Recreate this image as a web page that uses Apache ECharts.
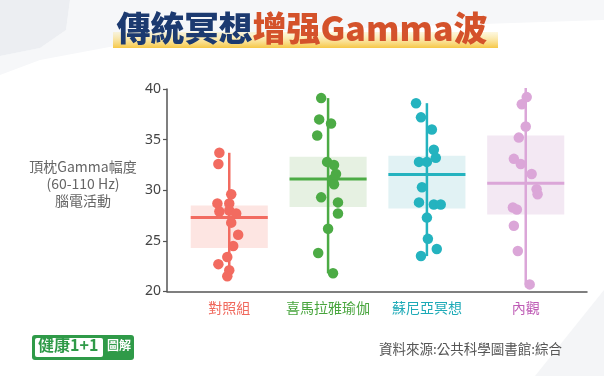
<!DOCTYPE html>
<html>
<head>
<meta charset="utf-8">
<script src="https://cdn.jsdelivr.net/npm/echarts@6/dist/echarts.min.js"></script>
<style>
  html, body { margin: 0; padding: 0; background: #fff; }
  #chart { width: 604px; height: 376px; }
</style>
</head>
<body>
<div id="chart"></div>
<script>
// categories
const groupNames = ['對照組', '喜馬拉雅瑜伽', '蘇尼亞冥想', '內觀'];
const groupPos = [1, 2, 3, 4];
const yTicks = [20, 25, 30, 35, 40];

// summary per group: mean, box low/high, whisker low/high
const groupMean = [27.3, 31.1, 31.55, 30.7];
const boxLow = [24.3, 28.35, 28.2, 27.6];
const boxHigh = [28.5, 33.3, 33.4, 35.4];
const whiskerLow = [21.4, 21.8, 23.5, 20.7];
const whiskerHigh = [33.7, 39.1, 38.6, 40.1];

// individual points [x, value] (x jitter)
const pointsControl = [
  [0.90, 33.7], [0.89, 32.6], [1.02, 29.6], [0.88, 28.7], [1.00, 28.7],
  [0.90, 27.9], [1.00, 28.0], [1.07, 27.7], [1.02, 26.8], [1.09, 25.6],
  [1.04, 24.5], [0.98, 23.4], [0.89, 22.7], [1.00, 22.1], [0.98, 21.5]
];
const pointsYoga = [
  [1.93, 39.1], [1.91, 37.0], [2.03, 36.6], [1.89, 35.4], [1.99, 32.8],
  [2.06, 32.5], [2.08, 31.6], [2.05, 31.1], [2.06, 30.6], [1.93, 29.3],
  [2.10, 28.8], [2.10, 27.7], [2.00, 26.2], [1.90, 23.8], [2.05, 21.8]
];
const pointsSunya = [
  [2.89, 38.6], [2.94, 37.2], [3.05, 36.0], [3.07, 34.0], [3.09, 33.2],
  [2.92, 32.8], [3.00, 32.8], [2.95, 30.3], [2.92, 28.8], [3.07, 28.6],
  [3.14, 28.6], [3.00, 27.3], [3.01, 25.2], [3.10, 24.2], [2.94, 23.5]
];
const pointsVipassana = [
  [4.05, 40.1], [4.01, 39.2], [3.96, 38.5], [4.00, 36.3], [3.93, 35.2],
  [3.88, 33.1], [3.95, 32.6], [4.06, 31.6], [4.11, 30.1], [4.12, 29.6],
  [3.87, 28.3], [3.91, 28.1], [3.88, 26.5], [3.92, 24.0], [4.04, 20.7]
];

const pointColors = ['#f26b60', '#4cab45', '#24b3bf', '#dba6d8'];
const boxColors = ['#fde5e2', '#e6f1e2', '#e1f2f4', '#f3e8f3'];
const labelColors = ['#f0685c', '#48a53d', '#1eaab7', '#bf5db6'];

const chartDom = document.getElementById('chart');
const myChart = echarts.init(chartDom);

const boxData = groupPos.map((x, i) => [x, groupMean[i], boxLow[i], boxHigh[i], whiskerLow[i], whiskerHigh[i], i]);
const halfW = 0.39;

function renderBox(params, api) {
  const x = api.value(0);
  const i = api.value(6);
  const tl = api.coord([x - halfW, api.value(3)]);
  const br = api.coord([x + halfW, api.value(2)]);
  const mL = api.coord([x - halfW, api.value(1)]);
  const mR = api.coord([x + halfW, api.value(1)]);
  const wT = api.coord([x, api.value(5)]);
  const wB = api.coord([x, api.value(4)]);
  return {
    type: 'group',
    children: [
      { type: 'rect', shape: { x: tl[0], y: tl[1], width: br[0] - tl[0], height: br[1] - tl[1] },
        style: { fill: boxColors[i] } },
      { type: 'line', shape: { x1: mL[0], y1: mL[1], x2: mR[0], y2: mR[1] },
        style: { stroke: pointColors[i], lineWidth: 3 } },
      { type: 'line', shape: { x1: wT[0], y1: wT[1], x2: wB[0], y2: wB[1] },
        style: { stroke: pointColors[i], lineWidth: 2.5 } }
    ]
  };
}

const labelRich = {};
labelColors.forEach((c, i) => {
  labelRich['c' + i] = { color: c, fontSize: 14, fontFamily: 'Noto Sans CJK TC' };
});

const allPoints = [pointsControl, pointsYoga, pointsSunya, pointsVipassana];

const option = {
  backgroundColor: '#ffffff',
  animation: false,
  textStyle: { fontFamily: 'Noto Sans CJK TC' },
  grid: { left: 167, right: 17, top: 89, bottom: 84.5, containLabel: false },
  title: {
    text: '{a|傳統冥想}{b|增强Gamma波}',
    left: 'center',
    top: 6,
    textStyle: {
      rich: {
        a: { color: '#1c3a70', fontSize: 34, fontWeight: 900, fontFamily: 'Noto Sans CJK TC' },
        b: { color: '#d4522b', fontSize: 34, fontWeight: 900, fontFamily: 'Noto Sans CJK TC' }
      }
    },
    z: 10
  },
  graphic: [
    { type: 'polygon', z: -10, shape: { points: [[0, 0], [70, 0], [66, 30], [40, 48], [0, 56]] },
      style: { fill: '#eceef2' } },
    { type: 'polygon', z: -11, shape: { points: [[70, 0], [604, 0], [604, 20], [300, 30], [120, 45], [40, 60], [0, 75], [0, 56], [40, 48], [66, 30]] },
      style: { fill: '#f6f7f9' } },
    { type: 'polygon', z: -10, shape: { points: [[604, 290], [604, 376], [535, 376]] },
      style: { fill: '#f4f5f7' } },
    { type: 'rect', z: -1, shape: { x: 113, y: 32, width: 385, height: 16 },
      style: { fill: new echarts.graphic.LinearGradient(0, 0, 0, 1, [
        { offset: 0, color: 'rgba(250,230,150,0.3)' },
        { offset: 1, color: '#f6c746' }
      ]) } },
    { type: 'text', x: 83, y: 158, style: {
        text: '頂枕Gamma幅度\n(60-110 Hz)\n腦電活動', fill: '#666', fontSize: 14, lineHeight: 17,
        align: 'center', fontFamily: 'Noto Sans CJK TC' } },
    { type: 'rect', shape: { x: 32, y: 335, width: 102, height: 25, r: 3 }, style: { fill: '#2f9a48' } },
    { type: 'rect', shape: { x: 35, y: 338, width: 68, height: 19, r: 2 }, style: { fill: '#ffffff' } },
    { type: 'text', left: 38, top: 337, style: { text: '健康1+1', fill: '#2f9a48', fontSize: 16, fontWeight: 'bold', fontFamily: 'Noto Sans CJK TC' } },
    { type: 'text', left: 107, top: 339, style: { text: '圖解', fill: '#ffffff', fontSize: 12, fontWeight: 'bold', fontFamily: 'Noto Sans CJK TC' } },
    { type: 'text', right: 42, top: 342, style: { text: '資料來源:公共科學圖書館:綜合', fill: '#555', fontSize: 13.5, fontFamily: 'Noto Sans CJK TC' } }
  ],
  xAxis: {
    type: 'value',
    min: 0.37,
    max: 4.62,
    splitLine: { show: false },
    axisLine: { show: true, lineStyle: { color: '#555', width: 1.5 } },
    axisTick: { show: false },
    axisLabel: {
      customValues: groupPos,
      margin: 9,
      formatter: v => '{c' + (Math.round(v) - 1) + '|' + groupNames[Math.round(v) - 1] + '}',
      rich: labelRich
    }
  },
  yAxis: {
    type: 'value',
    min: yTicks[0],
    max: yTicks[yTicks.length - 1],
    interval: 5,
    splitLine: { show: false },
    axisLine: { show: true, lineStyle: { color: '#555', width: 1.5 } },
    axisTick: { show: true, length: 4, lineStyle: { color: '#555', width: 1.2 } },
    axisLabel: { color: '#444', fontSize: 14, margin: 6, fontFamily: 'Noto Sans' }
  },
  series: [
    {
      type: 'custom',
      renderItem: renderBox,
      data: boxData,
      encode: { x: 0, y: [1, 2, 3, 4, 5] },
      z: 1
    }
  ].concat(allPoints.map((pts, i) => ({
    type: 'scatter',
    data: pts,
    symbolSize: 10.5,
    itemStyle: { color: pointColors[i], opacity: 1 },
    z: 3
  })))
};

myChart.setOption(option);
</script>
</body>
</html>
